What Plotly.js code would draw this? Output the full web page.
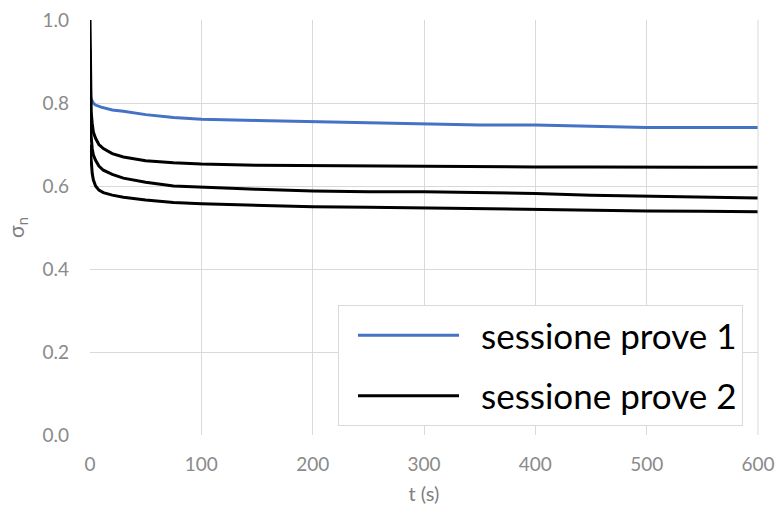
<!DOCTYPE html>
<html>
<head>
<meta charset="utf-8">
<script src="https://cdn.plot.ly/plotly-3.0.1.min.js"></script>
<style>
  html, body { margin: 0; padding: 0; background: #fff; }
  #chart { width: 779px; height: 518px; }
</style>
</head>
<body>
<div id="chart"></div>
<script>
// Normal stress relaxation over time, two test sessions
var tSeries1 = [0, 1, 3, 5, 10, 20, 30, 50, 75, 100, 150, 200, 250, 300, 350, 400, 450, 500, 550, 600];
var sigma1   = [0.82, 0.81, 0.80, 0.795, 0.79, 0.783, 0.78, 0.772, 0.765, 0.761, 0.758, 0.755, 0.752, 0.749, 0.747, 0.747, 0.744, 0.741, 0.741, 0.741];

var tSeries2 = [0, 1, 2, 3, 5, 8, 12, 20, 30, 50, 75, 100, 150, 200, 250, 300, 350, 400, 450, 500, 550, 600];
var sigma2a  = [1.0, 0.78, 0.75, 0.73, 0.715, 0.70, 0.69, 0.678, 0.670, 0.661, 0.656, 0.653, 0.650, 0.649, 0.648, 0.648, 0.647, 0.646, 0.646, 0.645, 0.645, 0.645];
var sigma2b  = [0.93, 0.72, 0.69, 0.675, 0.662, 0.648, 0.638, 0.628, 0.619, 0.609, 0.600, 0.597, 0.592, 0.588, 0.586, 0.586, 0.584, 0.582, 0.578, 0.576, 0.574, 0.571];
var sigma2c  = [0.70, 0.66, 0.63, 0.615, 0.60, 0.59, 0.584, 0.578, 0.573, 0.566, 0.560, 0.557, 0.553, 0.550, 0.549, 0.547, 0.546, 0.544, 0.542, 0.540, 0.539, 0.538];

var xTicks = [0, 100, 200, 300, 400, 500, 600];
var yTicks = [0.0, 0.2, 0.4, 0.6, 0.8, 1.0];

var seriesNames = ['sessione prove 1', 'sessione prove 2'];
var blue = '#4472C4';
var black = '#000000';

var traces = [
  { x: tSeries1, y: sigma1, name: seriesNames[0], mode: 'lines',
    line: { color: blue, width: 3 }, legendgroup: 'g1' },
  { x: tSeries2, y: sigma2a, name: seriesNames[1], mode: 'lines',
    line: { color: black, width: 3 }, legendgroup: 'g2' },
  { x: tSeries2, y: sigma2b, name: seriesNames[1], mode: 'lines',
    line: { color: black, width: 3 }, legendgroup: 'g2', showlegend: false },
  { x: tSeries2, y: sigma2c, name: seriesNames[1], mode: 'lines',
    line: { color: black, width: 3 }, legendgroup: 'g2', showlegend: false }
];

var tickFont = { family: 'Lato, sans-serif', size: 19, color: '#8a8a8a' };
var grid = '#d9d9d9';

var layout = {
  width: 779, height: 518,
  margin: { l: 90, r: 21, t: 20, b: 83 },
  paper_bgcolor: '#fff', plot_bgcolor: '#fff',
  showlegend: true,
  xaxis: {
    range: [0, 600], tickvals: xTicks, ticktext: xTicks.map(String),
    showgrid: true, gridcolor: grid, gridwidth: 1,
    zeroline: false, showline: false, ticks: '',
    tickfont: tickFont, ticklabelstandoff: 16,
    title: { text: 't (s)', font: { family: 'Lato, sans-serif', size: 20, color: '#7f7f7f' }, standoff: 12 }
  },
  yaxis: {
    range: [0, 1.0], tickvals: yTicks, ticktext: yTicks.map(function (v) { return v.toFixed(1); }),
    showgrid: true, gridcolor: grid, gridwidth: 1,
    zeroline: false, showline: false, ticks: '',
    tickfont: tickFont, ticklabelstandoff: 20,
    title: { text: 'σ<sub>n</sub>', font: { family: 'Lato, sans-serif', size: 21, color: '#7f7f7f' }, standoff: 12 }
  },
  legend: {
    x: (338 - 90) / 668, y: (435 - 305) / 415, xanchor: 'left', yanchor: 'top',
    bgcolor: '#fff', bordercolor: grid, borderwidth: 1,
    font: { family: 'Lato, sans-serif', size: 35, color: '#000' },
    itemwidth: 132, tracegroupgap: 12
  },
  shapes: [
    { type: 'line', xref: 'paper', yref: 'paper', x0: 1, x1: 1, y0: 0, y1: 1, line: { color: grid, width: 1 } }
  ]
};

Plotly.newPlot('chart', traces, layout, { displayModeBar: false, staticPlot: true }).then(function (gd) {
  // widen legend line samples to fill the symbol area
  var paths = gd.querySelectorAll('.legend .legendlines path');
  paths.forEach(function (p) { p.setAttribute('d', 'M19,0h101'); });
});
</script>
</body>
</html>
